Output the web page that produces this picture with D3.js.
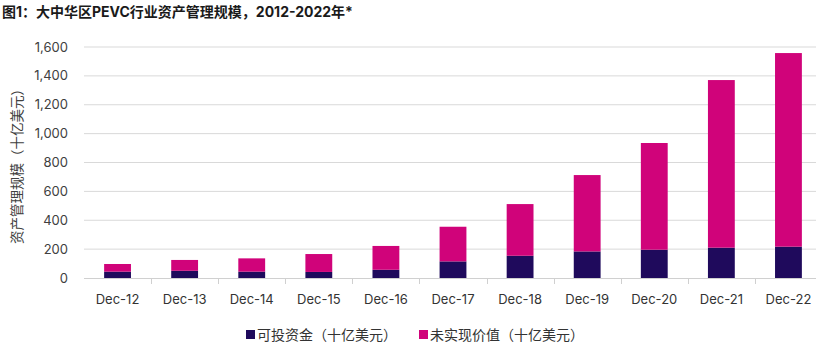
<!DOCTYPE html>
<html><head><meta charset="utf-8">
<script src="https://cdn.jsdelivr.net/npm/d3@7"></script>
<style>
body{margin:0;background:#fff;}
svg{display:block;font-family:"Inter","Noto Sans CJK SC",sans-serif;}
</style></head>
<body><svg id="c" width="816" height="344"></svg>
<script>
const categories = ["Dec-12","Dec-13","Dec-14","Dec-15","Dec-16","Dec-17","Dec-18","Dec-19","Dec-20","Dec-21","Dec-22"];
const dryPowder = [44, 50, 44, 42, 57, 115, 154, 184, 196, 210, 217];
const unrealized = [53, 75, 92, 124, 165, 240, 358, 529, 739, 1161, 1341];
const yTicks = [0,200,400,600,800,1000,1200,1400,1600];
const seriesNames = ["可投资金（十亿美元）","未实现价值（十亿美元）"];
const colors = ["#1f0a5c","#d0037a"];

const svg = d3.select("#c");
const x = d3.scaleBand().domain(categories).range([84, 822]).paddingInner(0.6).paddingOuter(0.3);
const y = d3.scaleLinear().domain([0,1600]).range([278, 47]);

svg.append("text").attr("x",2).attr("y",17).attr("font-size",14).attr("font-weight",700)
  .attr("fill","#1a1a1a").text("图1：大中华区PEVC行业资产管理规模，2012-2022年*");

// gridlines
svg.append("g").selectAll("line").data(yTicks.filter(d=>d>0)).join("line")
  .attr("x1",84).attr("x2",816).attr("y1",d=>y(d)).attr("y2",d=>y(d))
  .attr("stroke","#d9d9d9").attr("stroke-width",1);

// y tick labels
svg.append("g").selectAll("text").data(yTicks).join("text")
  .attr("x",68).attr("y",d=>y(d)).attr("dy","0.35em").attr("text-anchor","end")
  .attr("font-size",13).attr("fill","#404040").text(d=>d3.format(",")(d));

svg.append("text").attr("transform","translate(22,163) rotate(-90)").attr("text-anchor","middle")
  .attr("font-size",13.5).attr("fill","#404040").text("资产管理规模（十亿美元）");

// stacked bars
const rows = categories.map((c,i)=>({cat:c, a:dryPowder[i], b:unrealized[i]}));
const stack = d3.stack().keys(["a","b"])(rows);
svg.append("g").selectAll("g").data(stack).join("g").attr("fill",(d,i)=>colors[i])
  .selectAll("rect").data(d=>d).join("rect")
  .attr("x",d=>x(d.data.cat)).attr("width",x.bandwidth())
  .attr("y",d=>y(d[1])).attr("height",d=>y(d[0])-y(d[1]));

// x axis
const step = x.step();
svg.append("line").attr("x1",84).attr("x2",816).attr("y1",278.5).attr("y2",278.5).attr("stroke","#d0d0d0");
svg.append("g").selectAll("line").data(categories.slice(1)).join("line")
  .attr("x1",d=>Math.round(x(d)+x.bandwidth()/2-step/2)+0.5).attr("x2",d=>Math.round(x(d)+x.bandwidth()/2-step/2)+0.5)
  .attr("y1",278).attr("y2",284).attr("stroke","#d0d0d0");
svg.append("g").selectAll("text").data(categories).join("text")
  .attr("x",d=>x(d)+x.bandwidth()/2).attr("y",304).attr("text-anchor","middle")
  .attr("font-size",13).attr("fill","#333").text(d=>d);

// legend
const lg = svg.append("g");
const lx = [246, 419];
seriesNames.forEach((n,i)=>{
  lg.append("rect").attr("x",lx[i]).attr("y",330).attr("width",9).attr("height",9).attr("fill",colors[i]);
  lg.append("text").attr("x",lx[i]+11).attr("y",340).attr("font-size",14).attr("fill","#333").text(n);
});
</script></body></html>
